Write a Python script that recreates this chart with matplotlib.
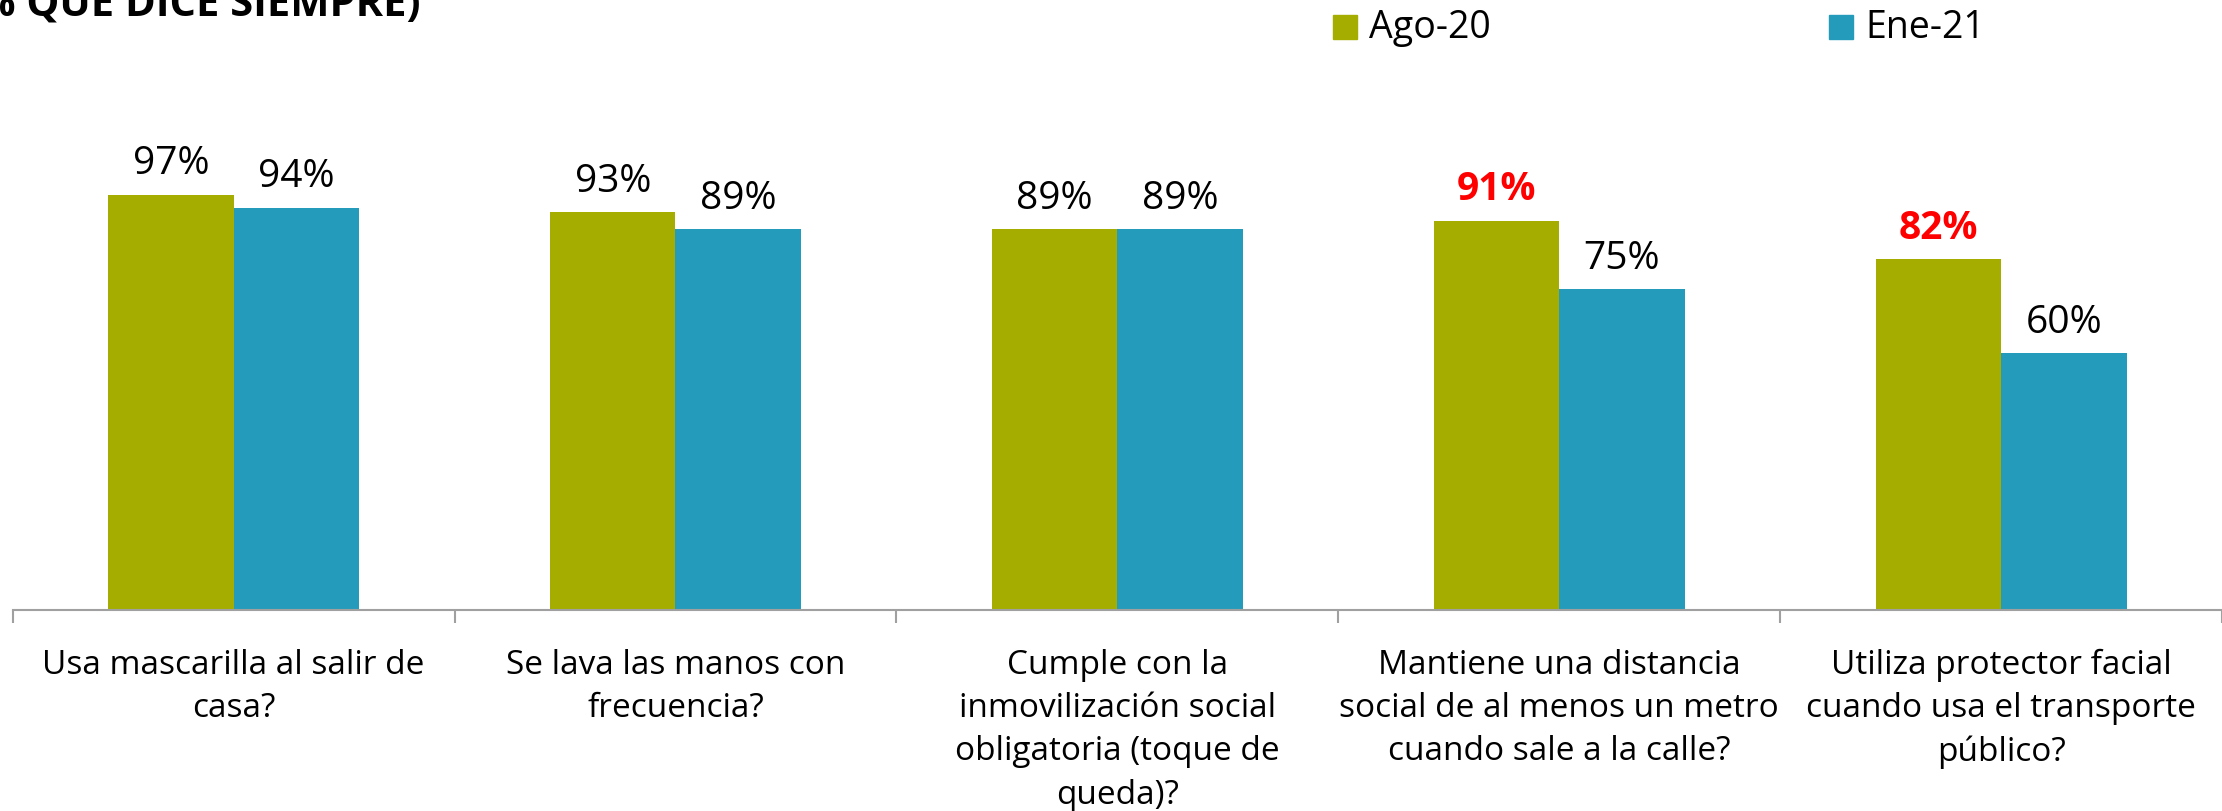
import matplotlib
matplotlib.use("Agg")
import matplotlib.pyplot as plt
from matplotlib import font_manager
import numpy as np

# --- data -------------------------------------------------------------
categories = [
    "Usa mascarilla al salir de\ncasa?",
    "Se lava las manos con\nfrecuencia?",
    "Cumple con la\ninmovilización social\nobligatoria (toque de\nqueda)?",
    "Mantiene una distancia\nsocial de al menos un metro\ncuando sale a la calle?",
    "Utiliza protector facial\ncuando usa el transporte\npúblico?",
]
series_names = ["Ago-20", "Ene-21"]
ago20 = [97, 93, 89, 91, 82]
ene21 = [94, 89, 89, 75, 60]
highlight_ago20 = [False, False, False, True, True]
title_text = "(% QUE DICE SIEMPRE)"

# --- style ------------------------------------------------------------
available = {f.name for f in font_manager.fontManager.ttflist}
family = "Liberation Sans Narrow" if "Liberation Sans Narrow" in available else "Open Sans"
plt.rcParams["font.family"] = [family, "DejaVu Sans"]

GREEN = "#A5AD00"
BLUE = "#259BBB"
AXIS_GRAY = "#A0A0A0"

W, H = 2222, 812
fig = plt.figure(figsize=(W / 100, H / 100), dpi=100)
fig.patch.set_facecolor("white")

left = 12.7 / W
bottom = 1 - 611 / H
ax = fig.add_axes([left, bottom, 1 - left, 1 - bottom])
ax.set_xlim(-0.5, len(categories) - 0.5)
ax.set_ylim(0, 142.8)

x = np.arange(len(categories))
bw = 0.284
b1 = ax.bar(x - bw / 2, ago20, width=bw, color=GREEN, linewidth=0)
b2 = ax.bar(x + bw / 2, ene21, width=bw, color=BLUE, linewidth=0)

for rect, v, hl in zip(b1, ago20, highlight_ago20):
    ax.annotate(f"{v}%", (rect.get_x() + rect.get_width() / 2, v),
                xytext=(0, 9), textcoords="offset points",
                ha="center", va="bottom", fontsize=28,
                color="#FF0000" if hl else "black",
                fontweight="bold" if hl else "normal")
for rect, v in zip(b2, ene21):
    ax.annotate(f"{v}%", (rect.get_x() + rect.get_width() / 2, v),
                xytext=(0, 9), textcoords="offset points",
                ha="center", va="bottom", fontsize=28, color="black")

# axes frame: only the baseline with category-boundary ticks
for s in ["top", "right", "left"]:
    ax.spines[s].set_visible(False)
ax.spines["bottom"].set_color(AXIS_GRAY)
ax.spines["bottom"].set_linewidth(1.5)
ax.set_yticks([])
ax.set_xticks(np.arange(-0.5, len(categories) + 0.5, 1.0))
ax.set_xticklabels([])
ax.tick_params(axis="x", direction="out", length=9, width=1.5, color=AXIS_GRAY)

for xi, lab in zip(x, categories):
    ax.text(xi, -0.062, lab, transform=ax.get_xaxis_transform(),
            ha="center", va="top", fontsize=24, linespacing=1.41)

# heading at the top-left, running off the canvas edge
fig.text(420 / W, 1 - 16 / H, title_text, ha="right", va="baseline",
         fontsize=30, fontweight="bold", color="black")

# legend
for name, col, sx in zip(series_names, [GREEN, BLUE], [1333, 1829]):
    fig.patches.append(plt.Rectangle((sx / W, 1 - 40 / H), 24 / W, 24 / H,
                                     transform=fig.transFigure, color=col))
    fig.text((sx + 36) / W, 1 - 28 / H, name, ha="left", va="center",
             fontsize=27, color="black")

fig.savefig("out.png", dpi=100, facecolor="white")
